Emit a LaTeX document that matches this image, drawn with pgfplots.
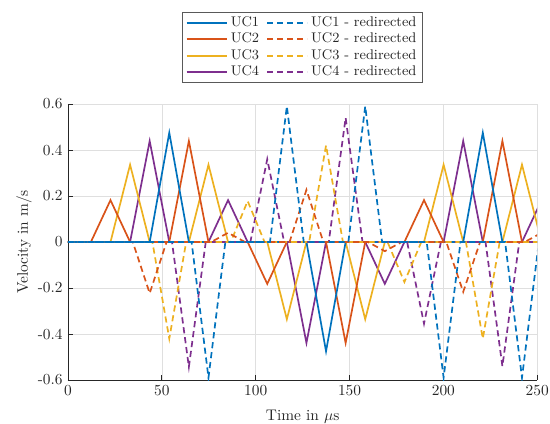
\documentclass[border=0pt]{standalone}
\usepackage{pgfplots}
\pgfplotsset{compat=1.18}
\definecolor{cA}{RGB}{0,114,189}
\definecolor{cB}{RGB}{217,83,25}
\definecolor{cC}{RGB}{237,177,32}
\definecolor{cD}{RGB}{126,47,142}
\definecolor{axcol}{RGB}{38,38,38}
\definecolor{gridcol}{RGB}{223,223,223}
\begin{document}
\begin{tikzpicture}
\begin{axis}[name=ax, scale only axis, width=305pt, height=179.4pt,
  xmin=0, xmax=250, ymin=-0.6, ymax=0.6,
  xtick={0,50,100,150,200,250},
  ytick={-0.6,-0.4,-0.2,0,0.2,0.4,0.6},
  yticklabels={-0.6,-0.4,-0.2,0,0.2,0.4,0.6},
  axis x line*=bottom, axis y line*=left,
  axis line style={-, axcol, line width=0.5pt},
  tick align=inside, major tick length=3pt,
  tick style={axcol, line width=0.5pt},
  grid=major, major grid style={gridcol, line width=0.4pt},
  ticklabel style={text=axcol},
  label style={text=axcol},
  xlabel={Time in $\mu$s}, ylabel={Velocity in m/s},
  xlabel style={yshift=-2.5pt},
  ylabel style={yshift=-3pt},
  legend columns=2,
  legend cell align=left,
  legend style={at={(0.5,1.076)}, anchor=south, draw=black!65, line width=0.4pt,
    font=\fontsize{9.1}{11}\selectfont,
    text=axcol, inner xsep=2pt, inner ysep=2pt, row sep=0.75pt,
    nodes={inner xsep=2pt, inner ysep=1pt},
    /tikz/every even column/.append style={column sep=2.5pt}},
  legend image code/.code={\draw[#1, line width=1.3pt] (0pt,0pt) -- (26pt,0pt);},
]
\addlegendimage{cA, solid}\addlegendentry{UC1}
\addlegendimage{cA, dash pattern=on 4pt off 2.5pt}\addlegendentry{UC1 - redirected}
\addlegendimage{cB, solid}\addlegendentry{UC2}
\addlegendimage{cB, dash pattern=on 4pt off 2.5pt}\addlegendentry{UC2 - redirected}
\addlegendimage{cC, solid}\addlegendentry{UC3}
\addlegendimage{cC, dash pattern=on 4pt off 2.5pt}\addlegendentry{UC3 - redirected}
\addlegendimage{cD, solid}\addlegendentry{UC4}
\addlegendimage{cD, dash pattern=on 4pt off 2.5pt}\addlegendentry{UC4 - redirected}

% solid: UC4, UC3, UC2, UC1
\addplot[cD, line width=1.1pt, forget plot] coordinates {(0,0) (33.08,0) (43.52,0.439) (53.96,0) (74.84,0) (85.28,0.182) (95.72,0) (116.60,0) (127.04,-0.439) (137.48,0) (158.36,0) (168.80,-0.182) (179.24,0) (200.12,0) (210.56,0.439) (221.00,0) (241.88,0) (252.32,0.182)};
\addplot[cC, line width=1.1pt, forget plot] coordinates {(0,0) (22.64,0) (33.08,0.336) (43.52,0) (64.40,0) (74.84,0.336) (85.28,0) (106.16,0) (116.60,-0.336) (127.04,0) (147.92,0) (158.36,-0.336) (168.80,0) (189.68,0) (200.12,0.336) (210.56,0) (231.44,0) (241.88,0.336) (252.32,0)};
\addplot[cB, line width=1.1pt, forget plot] coordinates {(0,0) (12.20,0) (22.64,0.182) (33.08,0) (53.96,0) (64.40,0.439) (74.84,0) (95.72,0) (106.16,-0.182) (116.60,0) (137.48,0) (147.92,-0.439) (158.36,0) (179.24,0) (189.68,0.182) (200.12,0) (221.00,0) (231.44,0.439) (241.88,0) (252.32,0)};
\addplot[cA, line width=1.1pt, forget plot] coordinates {(0,0) (43.52,0) (53.96,0.475) (64.40,0) (127.04,0) (137.48,-0.475) (147.92,0) (210.56,0) (221.00,0.475) (231.44,0) (252.32,0)};

% redirected (dashed): UC4, UC3, UC2, UC1
\addplot[cD, line width=1.1pt, dash pattern=on 4pt off 2.5pt, forget plot] coordinates {(0,0) (55.40,0) (64.40,-0.543) (73.40,0) (97.16,0) (106.16,0.36) (115.16,0) (138.92,0) (147.92,0.54) (156.92,0) (180.68,0) (189.68,-0.355) (198.68,0) (222.44,0) (231.44,-0.54) (240.44,0) (252,0)};
\addplot[cC, line width=1.1pt, dash pattern=on 4pt off 2.5pt, forget plot] coordinates {(0,0) (44.96,0) (53.96,-0.42) (62.96,0) (86.72,0) (95.72,0.178) (104.72,0) (128.48,0) (137.48,0.42) (146.48,0) (170.24,0) (179.24,-0.174) (188.24,0) (212.00,0) (221.00,-0.42) (230.00,0) (252,0)};
\addplot[cB, line width=1.1pt, dash pattern=on 4pt off 2.5pt, forget plot] coordinates {(0,0) (34.52,0) (43.52,-0.223) (52.52,0) (76.28,0) (85.28,0.04) (94.28,0) (118.04,0) (127.04,0.227) (136.04,0) (159.80,0) (168.80,-0.04) (177.80,0) (201.56,0) (210.56,-0.217) (219.56,0) (243.32,0) (252.32,0.04)};
\addplot[cA, line width=1.1pt, dash pattern=on 4pt off 2.5pt, forget plot] coordinates {(0,0) (65.84,0) (74.84,-0.59) (83.84,0) (107.60,0) (116.60,0.59) (125.60,0) (149.36,0) (158.36,0.59) (167.36,0) (191.12,0) (200.12,-0.59) (209.12,0) (232.88,0) (241.88,-0.59) (250.88,0)};
\end{axis}
\pgfresetboundingbox
\path[use as bounding box] ([shift={(-44.2pt,-27.95pt)}]ax.south west) rectangle ([shift={(313.3pt,247pt)}]ax.south west);
\end{tikzpicture}
\end{document}
